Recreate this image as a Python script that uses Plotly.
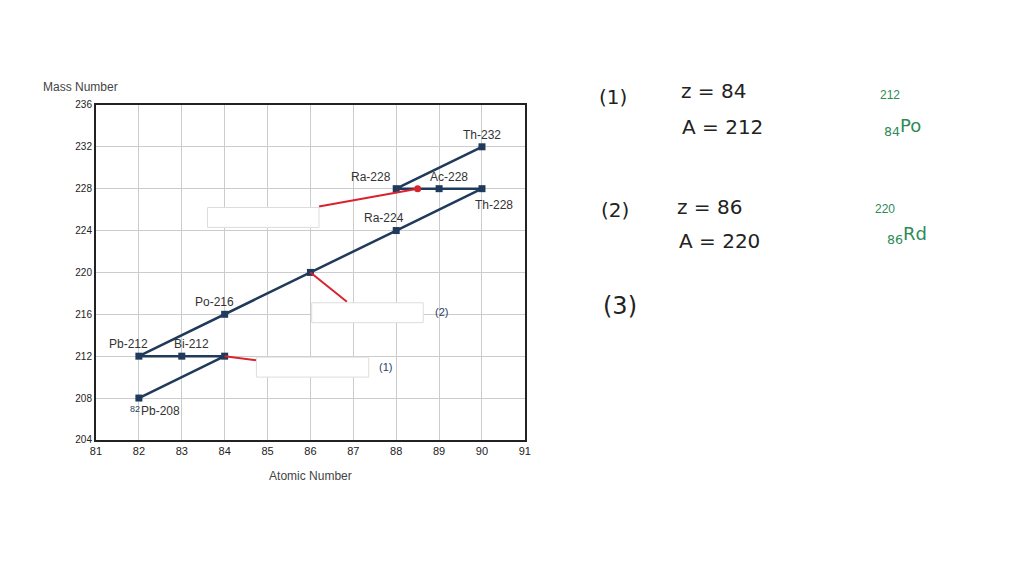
import plotly.graph_objects as go

chain_z = [90, 88, 89, 90, 88, 86, 84, 82, 83, 84, 82]
chain_a = [232, 228, 228, 228, 224, 220, 216, 212, 212, 212, 208]
label_names = ["Th-232", "Ra-228", "Ac-228", "Th-228", "Ra-224", "Po-216", "Pb-212", "Bi-212", "Pb-208"]
label_z = [90, 88, 89, 90, 88, 84, 82, 83, 82]
label_a = [232, 228, 228, 228, 224, 216, 212, 212, 208]
label_dx = [0, -25, 10, 12, -12, -10, -10, 10, 22]
label_dy = [-12, -12, -12, 16, -13, -12, -12, -12, 13]
x_ticks = [81, 82, 83, 84, 85, 86, 87, 88, 89, 90, 91]
y_ticks = [204, 208, 212, 216, 220, 224, 228, 232, 236]

def px(x):
    return (x - 12.6) / 1017

def py(y):
    return 1 - (y - 12.8) / 565.7

navy = "#1f3a5a"
fig = go.Figure()
fig.add_trace(go.Scatter(x=chain_z, y=chain_a, mode="lines+markers",
                         line=dict(color=navy, width=2.5), marker=dict(color=navy, size=7, symbol="square")))
red_segments = [([88.5, 86.2], [228, 226.3]), ([86, 86.85], [220, 217.2]), ([84, 84.74], [212, 211.6])]
for xs, ys in red_segments:
    fig.add_trace(go.Scatter(x=xs, y=ys, mode="lines", line=dict(color="#d9232e", width=2)))
fig.add_trace(go.Scatter(x=[88.5], y=[228], mode="markers", marker=dict(color="#d9232e", size=7)))

boxes = [(83.6, 86.2, 224.3, 226.2), (86.03, 88.63, 215.2, 217.1), (84.74, 87.36, 210.0, 211.9)]
for x0, x1, y0, y1 in boxes:
    fig.add_shape(type="rect", x0=x0, x1=x1, y0=y0, y1=y1, fillcolor="white",
                  line=dict(color="#dddddd", width=1))

for n, z, a, dx, dy in zip(label_names, label_z, label_a, label_dx, label_dy):
    fig.add_annotation(x=z, y=a, text=n, showarrow=False, xshift=dx, yshift=-dy,
                       font=dict(size=12, color="#333"))
fig.add_annotation(x=88.63, y=216.2, text="(2)", showarrow=False, xanchor="left", xshift=10, font=dict(size=11))
fig.add_annotation(x=87.36, y=211.0, text="(1)", showarrow=False, xanchor="left", xshift=8, font=dict(size=11))
fig.add_annotation(x=81.9, y=207.0, text="82", showarrow=False, font=dict(size=9))

fig.add_annotation(x=px(40), y=py(86), xref="paper", yref="paper", text="Mass Number", showarrow=False,
                   xanchor="left", yanchor="middle", font=dict(size=12, color="#444"))

hand = dict(size=20, color="#222", family="DejaVu Sans")
green = dict(size=18, color="#2e8b57", family="DejaVu Sans")
notes = [(615, 96, "(1)", hand), (716, 90, "z = 84", hand), (725, 126, "A = 212", hand),
         (617, 209, "(2)", hand), (712, 206, "z = 86", hand), (722, 240, "A = 220", hand),
         (622, 306, "(3)", dict(size=24, color="#222", family="DejaVu Sans")),
         (893, 94, "212", dict(size=12, color="#2e8b57")), (905, 126, "<sub>84</sub>Po", green),
         (888, 208, "220", dict(size=12, color="#2e8b57")), (910, 234, "<sub>86</sub>Rd", green)]
for x, y, t, f in notes:
    fig.add_annotation(x=px(x), y=py(y), xref="paper", yref="paper", text=t,
                       showarrow=False, xanchor="center", yanchor="middle", font=f)

fig.update_xaxes(range=[81, 91], tickvals=x_ticks, showgrid=True, gridcolor="#cccccc",
                 showline=True, linecolor="#222", linewidth=2, mirror=True, zeroline=False,
                 title=dict(text="Atomic Number", font=dict(size=12, color="#444")),
                 tickfont=dict(size=11, color="#222"), domain=[px(95), px(526)])
fig.update_yaxes(range=[204, 236], tickvals=y_ticks, showgrid=True, gridcolor="#cccccc",
                 showline=True, linecolor="#222", linewidth=2, mirror=True, zeroline=False,
                 tickfont=dict(size=10, color="#222"), domain=[py(440), py(104)])
fig.update_layout(width=1024, height=576, margin=dict(l=0, r=0, t=0, b=0), showlegend=False,
                  plot_bgcolor="white", paper_bgcolor="white", font=dict(family="Liberation Sans"))
fig.write_html("out.html")
